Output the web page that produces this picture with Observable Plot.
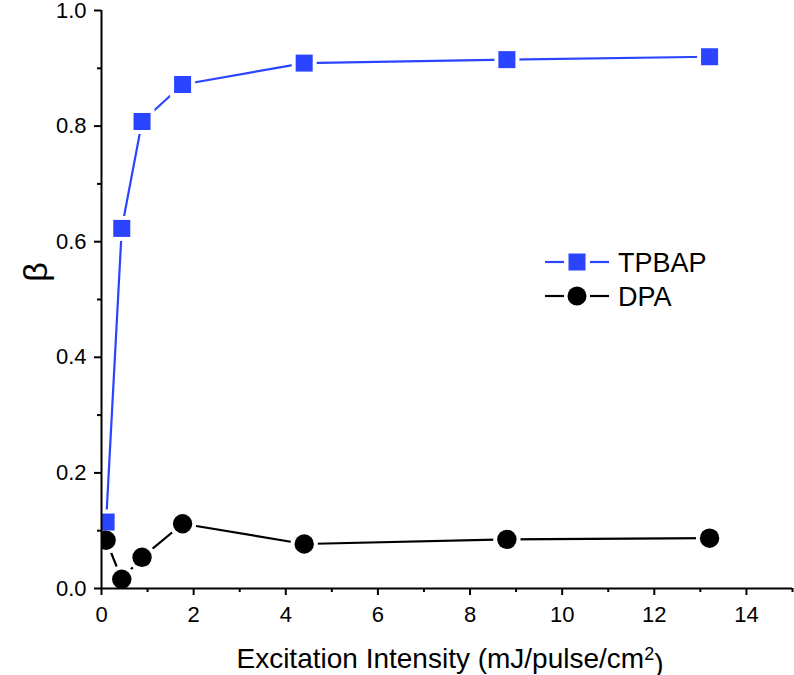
<!DOCTYPE html>
<html>
<head>
<meta charset="utf-8">
<script src="https://cdn.jsdelivr.net/npm/d3@7"></script>
<script src="https://cdn.jsdelivr.net/npm/@observablehq/plot@0.6"></script>
<style>
  html, body { margin: 0; padding: 0; background: white; }
  #chart { position: relative; width: 794px; height: 675px; }
</style>
</head>
<body>
<div id="chart"></div>
<script>
// ---- data ----
const intensity = [0.1, 0.44, 0.88, 1.76, 4.4, 8.8, 13.2];
const tpbap = [0.115, 0.623, 0.808, 0.872, 0.909, 0.915, 0.920];
const dpa = [0.0835, 0.016, 0.054, 0.112, 0.077, 0.085, 0.087];
const seriesNames = ["TPBAP", "DPA"];
const xTicks = [0, 2, 4, 6, 8, 10, 12, 14];
const xMinor = [1, 3, 5, 7, 9, 11, 13, 15];
const yTicks = [0.0, 0.2, 0.4, 0.6, 0.8, 1.0];
const yMinor = [0.1, 0.3, 0.5, 0.7, 0.9];
const xTitle = "Excitation Intensity (mJ/pulse/cm";
const yTitle = "β";

const blue = "#2b44ff";
const font = "Arial, 'Liberation Sans', Helvetica, sans-serif";

const rows = [];
intensity.forEach((x, i) => {
  rows.push({series: "TPBAP", x, y: tpbap[i]});
  rows.push({series: "DPA", x, y: dpa[i]});
});
const tp = rows.filter(d => d.series === "TPBAP");
const dp = rows.filter(d => d.series === "DPA");

const plot = Plot.plot({
  width: 794,
  height: 675,
  marginLeft: 101,
  marginRight: 2,
  marginTop: 10,
  marginBottom: 87,
  style: {fontFamily: font, fontSize: "22px", color: "black", background: "white", overflow: "visible"},
  x: {domain: [0, 15]},
  y: {domain: [0, 1]},
  marks: [
    Plot.line(tp, {x: "x", y: "y", stroke: blue, strokeWidth: 2.2}),
    Plot.line(dp, {x: "x", y: "y", stroke: "black", strokeWidth: 2.2}),
    // white halos to create gaps between lines and markers
    Plot.dot(tp, {x: "x", y: "y", symbol: "square", r: 9.6, fill: "white", stroke: "white", strokeWidth: 8, clip: true}),
    Plot.dot(dp, {x: "x", y: "y", symbol: "circle", r: 9.7, fill: "white", stroke: "white", strokeWidth: 8, clip: true}),
    Plot.dot(tp, {x: "x", y: "y", symbol: "square", r: 9.6, fill: blue, clip: true}),
    Plot.dot(dp, {x: "x", y: "y", symbol: "circle", r: 9.7, fill: "black", clip: true}),
    // axes
    Plot.ruleX([0], {stroke: "black", strokeWidth: 2}),
    Plot.ruleY([0], {stroke: "black", strokeWidth: 2}),
    Plot.axisX(xTicks, {tickSize: 7, tickPadding: 11, strokeWidth: 2, fontSize: 22, label: null, tickFormat: d => String(d)}),
    Plot.axisX(xMinor, {tickSize: 4, strokeWidth: 2, text: null, label: null}),
    Plot.axisY(yTicks, {tickSize: 7, tickPadding: 8, strokeWidth: 2, fontSize: 22, label: null, tickFormat: d3.format(".1f")}),
    Plot.axisY(yMinor, {tickSize: 4, strokeWidth: 2, text: null, label: null})
  ]
});

document.getElementById("chart").appendChild(plot);

const svg = d3.select(plot);

// enforce tick label font size on every text Plot produced
svg.selectAll("text")
  .style("font-size", "22px").style("font-family", font).attr("fill", "black");

// x-axis title with superscript
const xt = svg.append("text")
  .attr("x", 450).attr("y", 668)
  .attr("text-anchor", "middle")
  .style("font-family", font)
  .style("font-size", "28px")
  .attr("fill", "black");
xt.append("tspan").text(xTitle);
xt.append("tspan").attr("dy", "-0.45em").style("font-size", "18px").text("2");
xt.append("tspan").attr("dy", "0.45em").text(")");

// y-axis title
svg.append("text")
  .attr("transform", "translate(47,272) rotate(-90)")
  .attr("text-anchor", "middle")
  .style("font-family", font)
  .style("font-size", "34px")
  .attr("fill", "black")
  .text(yTitle);

// legend
const legend = svg.append("g").attr("transform", "translate(545,262)");
const legendColors = [blue, "black"];
const legendSymbols = ["square", "circle"];
seriesNames.forEach((name, i) => {
  const g = legend.append("g").attr("transform", `translate(0,${i * 34})`);
  g.append("line").attr("x1", 0).attr("x2", 19).attr("y1", 0).attr("y2", 0)
    .attr("stroke", legendColors[i]).attr("stroke-width", 2.2);
  g.append("line").attr("x1", 45).attr("x2", 64).attr("y1", 0).attr("y2", 0)
    .attr("stroke", legendColors[i]).attr("stroke-width", 2.2);
  if (legendSymbols[i] === "square") {
    g.append("rect").attr("x", 32 - 8.5).attr("y", -8.5).attr("width", 17).attr("height", 17)
      .attr("fill", legendColors[i]);
  } else {
    g.append("circle").attr("cx", 32).attr("cy", 0).attr("r", 9.5).attr("fill", legendColors[i]);
  }
  g.append("text").attr("x", 73).attr("y", 0).attr("dy", "0.36em")
    .attr("text-anchor", "start")
    .style("font-family", font).style("font-size", "27px").attr("fill", "black")
    .text(name);
});
</script>
</body>
</html>
